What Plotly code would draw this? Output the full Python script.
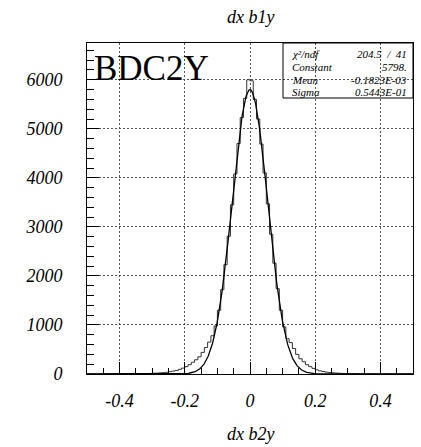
import numpy as np
import plotly.graph_objects as go

# ---- data ----
bin_low_edges = [round(-0.5 + i * 0.01, 3) for i in range(100)]
counts = [
    0, 1, 0, 0, 1, 0, 1, 1, 0, 1,                              # centres -0.495 .. -0.405
    1, 2, 2, 3, 4, 5, 6, 8, 10, 12,                            # -0.395 .. -0.305
    15, 18, 22, 28, 35, 48, 60, 72, 95, 120,                   # -0.295 .. -0.205
    150, 190, 240, 290, 350, 440, 540, 650, 780, 980,          # -0.195 .. -0.105
    1300, 1720, 2230, 2810, 3450, 4080, 4700, 5230, 5620, 6000,  # -0.095 .. -0.005
    5980, 5600, 5200, 4690, 4100, 3470, 2850, 2260, 1740, 1300,  # 0.005 .. 0.095
    960, 720, 640, 520, 400, 310, 250, 190, 150, 115,          # 0.105 .. 0.195
    85, 65, 50, 38, 30, 24, 19, 15, 12, 10,                    # 0.205 .. 0.295
    8, 7, 5, 4, 4, 3, 3, 2, 2, 1,                              # 0.305 .. 0.395
    2, 1, 1, 0, 1, 1, 0, 0, 1, 0,                              # 0.405 .. 0.495
]

fit_constant = 5798.0
fit_mean = -0.1823e-03
fit_sigma = 0.5443e-01

x_tickvals = [-0.4, -0.2, 0.0, 0.2, 0.4]
x_ticktext = ["-0.4", "-0.2", "0", "0.2", "0.4"]
y_tickvals = [0, 1000, 2000, 3000, 4000, 5000, 6000]
y_ticktext = ["0", "1000", "2000", "3000", "4000", "5000", "6000"]

title_text = "dx b1y"
xaxis_title = "dx b2y"
label_text = "BDC2Y"
stats_labels = ["\u03c7\u00b2/ndf", "Constant", "Mean", "Sigma"]
stats_values = ["204.5  /  41", "5798.", "-0.1823E-03", "0.5443E-01"]

# ---- figure ----
xs = bin_low_edges + [0.5]
ys = counts + [counts[-1]]

fx = np.linspace(-0.5, 0.5, 801)
fy = fit_constant * np.exp(-0.5 * ((fx - fit_mean) / fit_sigma) ** 2)

fig = go.Figure()
fig.add_trace(go.Scatter(x=xs, y=ys, mode="lines", line_shape="hv",
                         line=dict(color="#333333", width=1), hoverinfo="skip"))
fig.add_trace(go.Scatter(x=fx, y=fy, mode="lines",
                         line=dict(color="black", width=1.3), hoverinfo="skip"))

serif = "Liberation Serif"
fig.update_layout(
    width=421, height=447,
    margin=dict(l=87, r=8, t=43, b=73),
    paper_bgcolor="white", plot_bgcolor="white",
    showlegend=False,
    font=dict(family=serif, color="black"),
)
fig.update_xaxes(
    range=[-0.5, 0.5], tickmode="array", tickvals=x_tickvals,
    ticktext=["<i>%s</i>" % t for t in x_ticktext],
    ticks="inside", ticklen=12, tickcolor="black", tickwidth=1,
    minor=dict(dtick=0.05, tick0=0, ticks="inside", ticklen=6, tickcolor="black", showgrid=False),
    showgrid=True, gridcolor="#555555", griddash="2px,2px", gridwidth=1,
    showline=True, linecolor="black", linewidth=1, mirror=True,
    zeroline=False,
    tickfont=dict(family=serif, size=18, color="black"),
    ticklabelstandoff=10,
)
fig.update_yaxes(
    range=[0, 6750], tickmode="array", tickvals=y_tickvals,
    ticktext=["<i>%s</i>" % t for t in y_ticktext],
    ticks="inside", ticklen=12, tickcolor="black", tickwidth=1,
    minor=dict(dtick=200, tick0=0, ticks="inside", ticklen=7, tickcolor="black", showgrid=False),
    showgrid=True, gridcolor="#555555", griddash="2px,2px", gridwidth=1,
    showline=True, linecolor="black", linewidth=1, mirror=True,
    zeroline=False,
    tickfont=dict(family=serif, size=18, color="black"),
    ticklabelstandoff=20,
)

annotations = [
    dict(text="<i>%s</i>" % title_text, xref="paper", yref="paper", x=0.5, y=1.0, yshift=26,
         xanchor="center", yanchor="middle", showarrow=False,
         font=dict(family=serif, size=18)),
    dict(text="<i>%s</i>" % xaxis_title, xref="paper", yref="paper", x=0.5, y=0.0, yshift=-60,
         xanchor="center", yanchor="middle", showarrow=False,
         font=dict(family=serif, size=18)),
    dict(text=label_text, xref="paper", yref="paper", x=0.0, y=1.0, xshift=5, yshift=-25,
         xanchor="left", yanchor="middle", showarrow=False,
         font=dict(family=serif, size=35)),
]
row_y = [54, 67, 80, 92]
for lab, val, yy in zip(stats_labels, stats_values, row_y):
    yp = (374 - yy) / 331.0
    annotations.append(dict(text="<i>%s</i>" % lab, xref="paper", yref="paper", x=(290 - 87) / 326.0, y=yp,
                            xanchor="left", yanchor="middle", showarrow=False,
                            font=dict(family=serif, size=11)))
    annotations.append(dict(text="<i>%s</i>" % val, xref="paper", yref="paper", x=(409 - 87) / 326.0, y=yp,
                            xanchor="right", yanchor="middle", showarrow=False,
                            font=dict(family=serif, size=11)))
fig.update_layout(annotations=annotations)
fig.add_shape(type="rect", xref="paper", yref="paper",
              x0=(283 - 87) / 326.0, x1=1.0, y0=(374 - 98) / 331.0, y1=1.0,
              line=dict(color="black", width=1), fillcolor="rgba(0,0,0,0)")

fig.write_html("out.html")
